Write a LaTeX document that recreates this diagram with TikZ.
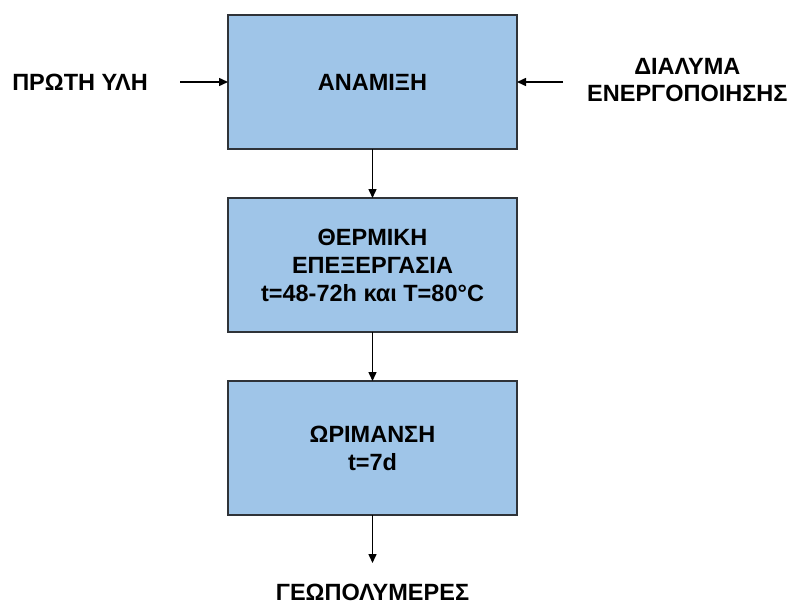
\documentclass[tikz,border=0pt]{standalone}
\usepackage{fontspec}
\setmainfont{Liberation Sans}
\usepackage{xcolor}
\usetikzlibrary{arrows.meta, positioning}
\definecolor{boxcolor}{HTML}{9FC5E8}
\definecolor{edgecolor}{HTML}{2F3338}

\begin{document}
\begin{tikzpicture}[
    x=1pt, y=1pt,
    box/.style={draw=edgecolor, line width=2pt, fill=boxcolor, minimum width=289pt, minimum height=134pt, align=center, outer sep=0pt, font=\fontsize{23.5}{28}\selectfont\bfseries},
    lbl/.style={align=center, inner sep=0pt, font=\fontsize{23.5}{27}\selectfont\bfseries},
    >={Triangle[length=9pt, width=8pt]}, node distance=49pt
  ]
  \useasboundingbox (0,0) rectangle (790,-605);
  \node[box] (mix) at (372.5,-82) {ΑΝΑΜΙΞΗ};
  \node[box, below=of mix] (heat) {ΘΕΡΜΙΚΗ\\ΕΠΕΞΕΡΓΑΣΙΑ\\t=48-72h και T=80°C};
  \node[box, below=of heat] (cure) {ΩΡΙΜΑΝΣΗ\\t=7d};

  \node[lbl, left=80pt of mix] (raw) {ΠΡΩΤΗ ΥΛΗ};
  \node[lbl, right=70pt of mix, yshift=2pt] (sol) {ΔΙΑΛΥΜΑ\\ΕΝΕΡΓΟΠΟΙΗΣΗΣ};
  \node[lbl, below=69pt of cure] (geo) {ΓΕΩΠΟΛΥΜΕΡΕΣ};

  \draw[->, line width=1.5pt, shorten <=32pt] (raw.east) -- (mix.west);
  \draw[->, line width=1.5pt] ([xshift=-24pt]sol.west |- mix.east) -- (mix.east);
  \draw[->, line width=1.5pt] (mix) -- (heat);
  \draw[->, line width=1.5pt] (heat) -- (cure);
  \draw[->, line width=1.5pt, shorten >=21pt] (cure) -- (geo);
\end{tikzpicture}
\end{document}
